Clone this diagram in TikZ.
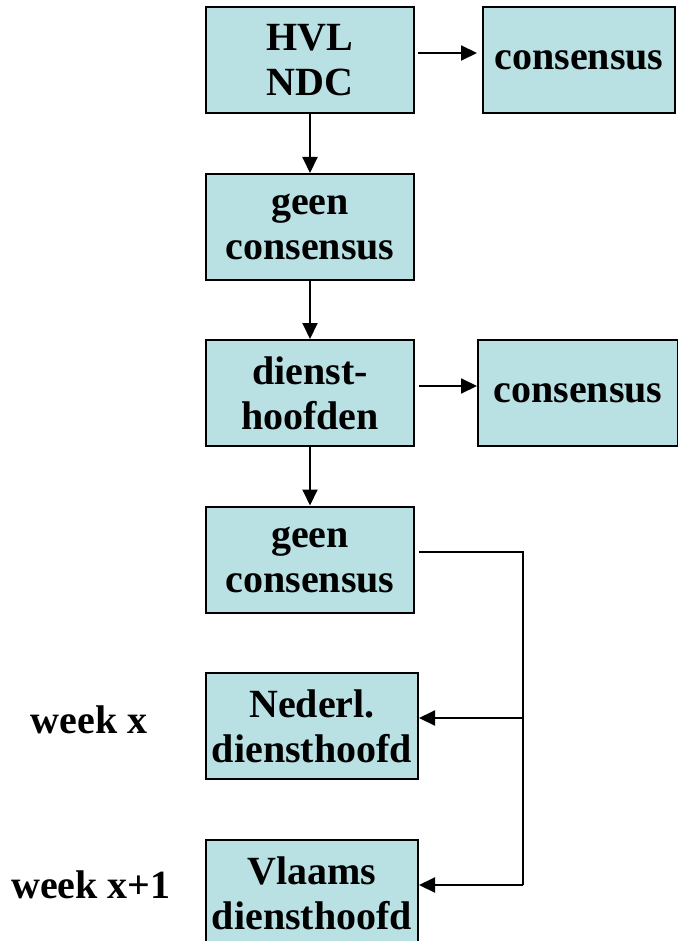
\documentclass[tikz,border=0pt]{standalone}
\usepackage{fontspec}
\setmainfont{Liberation Serif}
\usetikzlibrary{arrows.meta,calc}
\definecolor{boxfill}{RGB}{185,224,227}
\tikzset{
  box/.style={draw=black, fill=boxfill, line width=2pt, inner sep=0pt,
    minimum width=208pt, minimum height=106pt, align=center,
    font=\fontsize{40}{45}\selectfont\bfseries},
  lbl/.style={inner sep=0pt, font=\fontsize{40}{45}\selectfont\bfseries},
  conn/.style={draw=black, line width=2pt},
  arr/.style={conn, -{Triangle[length=16pt,width=15pt]}}
}
\begin{document}
\begin{tikzpicture}[x=1pt,y=-1pt]
\useasboundingbox (0,0) rectangle (677,941);
\node[box] (b1) at (310,60.5) {HVL\\NDC};
\node[box, minimum width=192pt] (c1) at (579,60.5) {consensus};
\node[box] (b2) at (310,227) {geen\\consensus};
\node[box] (b3) at (310,393) {dienst-\\hoofden};
\node[box, minimum width=200pt] (c2) at (578,393) {consensus};
\node[box] (b4) at (310,559.5) {geen\\consensus};
\node[box, minimum width=212pt] (b5) at (312,726) {Nederl.\\diensthoofd};
\node[box, minimum width=212pt] (b6) at (312,893) {Vlaams\\diensthoofd};
\node[lbl] (w1) at (89,720) {week x};
\node[lbl] (w2) at (91,885) {week x+1};
% horizontal arrows
\draw[arr, shorten <=3pt, shorten >=5pt] ([yshift=7.5pt]b1.east) -- ([yshift=7.5pt]b1.east -| c1.west);
\draw[arr, shorten <=4pt] ([yshift=7pt]b3.east) -- ([yshift=7pt]b3.east -| c2.west);
% vertical arrows
\draw[arr] (b1.south) -- (b2.north);
\draw[arr] (b2.south) -- (b3.north);
\draw[arr] (b3.south) -- (b4.north);
% bus connector
\coordinate (bus) at (523,0);
\coordinate (t5) at ([yshift=8pt]b5.east);
\coordinate (t6) at ([yshift=8pt]b6.east);
\draw[conn] ([xshift=4pt,yshift=7.5pt]b4.east) -| (bus |- t6);
\draw[arr] (bus |- t5) -- (t5);
\draw[arr] (bus |- t6) -- (t6);
\end{tikzpicture}
\end{document}
